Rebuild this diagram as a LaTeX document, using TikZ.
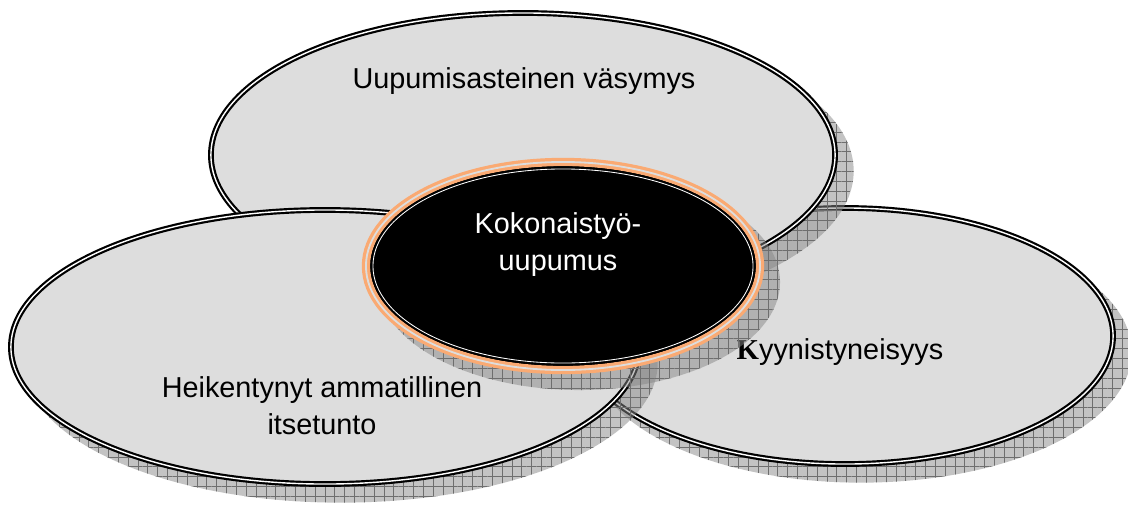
\documentclass[tikz,border=0pt]{standalone}
\usepackage{fontspec}
\setmainfont{Liberation Sans}
\newfontfamily\serifletter{Liberation Serif}
\usetikzlibrary{shapes.geometric, patterns.meta, calc}

\definecolor{bubblegray}{RGB}{221,221,221}
\definecolor{shadowgray}{RGB}{135,135,135}
\definecolor{gridgray}{RGB}{110,110,110}
\definecolor{coreorange}{RGB}{250,170,115}

\tikzset{
    bubble/.style={ellipse, inner sep=0pt, fill=bubblegray, draw=black, double=white, line width=1.55pt, double distance=1pt},
    bubbleshadow/.style={ellipse, inner sep=0pt, preaction={fill=shadowgray, fill opacity=0.5}, pattern={Hatch[angle=0, distance=7pt, line width=0.35pt]}, pattern color=gridgray, fill opacity=0.5},
    corering/.style={ellipse, inner sep=0pt, fill=black, draw=coreorange, double=bubblegray, line width=2.3pt, double distance=1.3pt},
    coreline/.style={ellipse, inner sep=0pt, draw=black, double=white, line width=1.5pt, double distance=0.6pt},
    bubbletext/.style={text centered, align=center, font=\fontsize{20.5pt}{26.3pt}\selectfont}
}

\begin{document}
\begin{tikzpicture}[x=0.025cm, y=-0.025cm]
    \useasboundingbox (0,0) rectangle (1128,506);
    \clip (0,0) rectangle (1128,506);

    % Right bubble
    \coordinate (RightCentre) at (845,336);
    \node (RightBubble-Shadow) at ($(RightCentre)+(16,16)$) [bubbleshadow, minimum width=13.53cm, minimum height=6.53cm]{};
    \node (RightBubble) at (RightCentre) [bubble, minimum width=13.4cm, minimum height=6.4cm]{};
    \node (RightBubble-Text) at ($(RightCentre)+(-5,16)$) [bubbletext]{{\serifletter\bfseries K}yynistyneisyys};

    % Top bubble
    \coordinate (TopCentre) at (523,155);
    \node (TopBubble-Shadow) at ($(TopCentre)+(16,16)$) [bubbleshadow, minimum width=15.73cm, minimum height=7.23cm]{};
    \node (TopBubble) at (TopCentre) [bubble, minimum width=15.6cm, minimum height=7.1cm]{};
    \node (TopBubble-Text) at ($(TopCentre)+(1,-74)$) [bubbletext]{Uupumisasteinen väsymys};

    % Left bubble
    \coordinate (LeftCentre) at (325,347);
    \node (LeftBubble-Shadow) at ($(LeftCentre)+(16,16)$) [bubbleshadow, minimum width=15.83cm, minimum height=6.98cm]{};
    \node (LeftBubble) at (LeftCentre) [bubble, minimum width=15.7cm, minimum height=6.85cm]{};
    \node (LeftBubble-Text) at ($(LeftCentre)+(-3,59)$) [bubbletext]{Heikentynyt ammatillinen\\itsetunto};

    % Core bubble
    \coordinate (CoreCentre) at (563,266);
    \node (CoreBubble-Shadow) at ($(CoreCentre)+(16,16)$) [bubbleshadow, minimum width=10.05cm, minimum height=5.4cm]{};
    \node (CoreBubble) at (CoreCentre) [corering, minimum width=9.85cm, minimum height=5.2cm]{};
    \node (CoreBubble-Line) at (CoreCentre) [coreline, minimum width=9.5cm, minimum height=4.85cm]{};
    \node (CoreBubble-Text) at ($(CoreCentre)+(-5,-21)$) [bubbletext, text=white]{Kokonaistyö-\\uupumus};
\end{tikzpicture}
\end{document}
